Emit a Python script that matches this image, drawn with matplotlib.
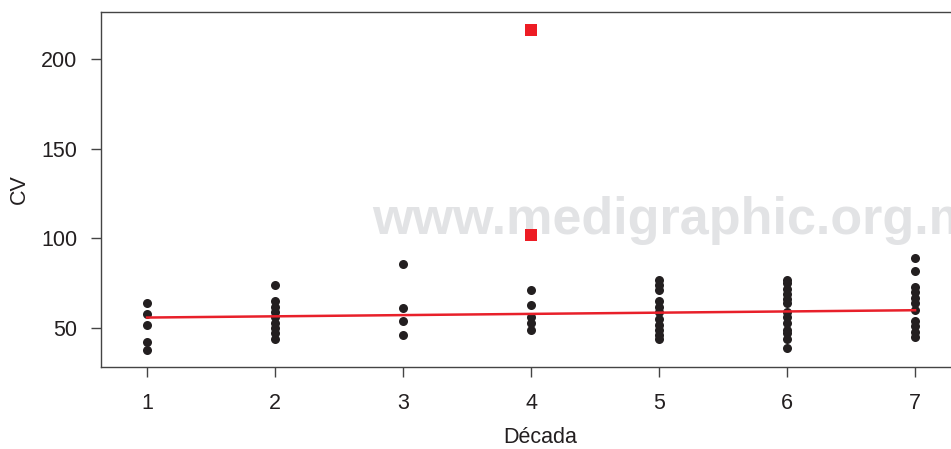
import matplotlib
matplotlib.use("Agg")
import matplotlib.pyplot as plt
import numpy as np

plt.rcParams['font.family'] = ['Liberation Sans Narrow', 'Liberation Sans', 'DejaVu Sans']

# Data
decade1 = [64, 58, 52, 42, 38]
decade2 = [74, 65, 62, 59, 56, 53, 50, 47, 44]
decade3 = [86, 61, 54, 46]
decade4 = [71, 63, 56, 53, 49]
decade5 = [77, 74, 71, 65, 62, 59, 55, 52, 49, 46, 44]
decade6 = [77, 75, 72, 69, 66, 64, 59, 56, 53, 49, 47, 44, 39]
decade7 = [89, 82, 73, 70, 67, 64, 60, 54, 51, 48, 45]
decades = [1, 2, 3, 4, 5, 6, 7]
groups = [decade1, decade2, decade3, decade4, decade5, decade6, decade7]

outlier_x = [4, 4]
outlier_y = [216, 102]

fit_intercept = 55.2
fit_slope = 0.68

xticks = [1, 2, 3, 4, 5, 6, 7]
yticks = [50, 100, 150, 200]

fig = plt.figure(figsize=(9.51, 4.49), dpi=100)
ax = fig.add_axes([0.1062, 0.1826, 0.9233, 0.7906])
ax.set_zorder(1)
ax.patch.set_alpha(0)

# watermark
fig.text(372 / 951, 1 - 234 / 449, "www.medigraphic.org.mx", fontsize=37.5,
         fontweight='bold', color='#e2e3e5', ha='left', va='baseline', zorder=0)

for d, vals in zip(decades, groups):
    ax.plot([d] * len(vals), vals, 'o', color='#231f20', markersize=6.5,
            markeredgewidth=0, zorder=3)

ax.plot(outlier_x, outlier_y, 's', color='#ed1c24', markersize=8.5,
        markeredgewidth=0, zorder=3)

xl = np.array([decades[0], decades[-1]])
ax.plot(xl, fit_intercept + fit_slope * xl, color='#e8202a', linewidth=1.8, zorder=4)

ax.set_xlim(0.64, 7.5)
ax.set_ylim(28.3, 226.2)
ax.set_xticks(xticks)
ax.set_yticks(yticks)
ax.tick_params(axis='both', labelsize=15.5, length=7, width=1, color='#444444',
               labelcolor='#231f20')
ax.tick_params(axis='x', pad=12)
ax.tick_params(axis='y', pad=10)
for s in ax.spines.values():
    s.set_color('#444444')
    s.set_linewidth(1)

ax.set_xlabel('Década', fontsize=15.5, color='#231f20', labelpad=9)
ax.set_ylabel('CV', fontsize=15.5, color='#231f20', labelpad=8)

fig.savefig('out.png', dpi=100)
